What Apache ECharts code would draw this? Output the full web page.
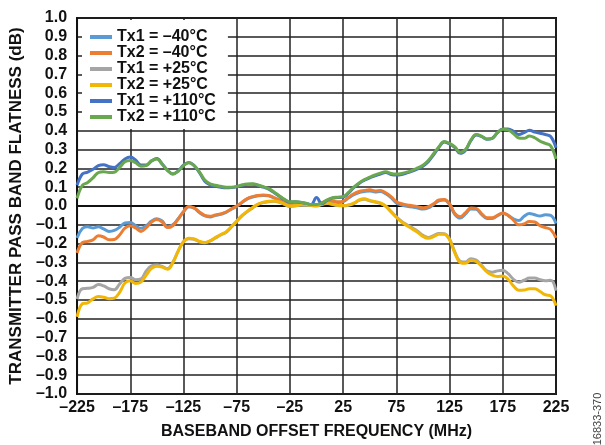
<!DOCTYPE html>
<html>
<head>
<meta charset="utf-8">
<script src="https://cdn.jsdelivr.net/npm/echarts@6/dist/echarts.min.js"></script>
<style>
  html, body { margin: 0; padding: 0; background: #fff; }
  #chart { width: 605px; height: 445px; }
</style>
</head>
<body>
<div id="chart"></div>
<script>
// baseband offset frequency, MHz (5 MHz steps)
const freq = [
  -225, -220, -215, -210, -205, -200, -195, -190, -185, -180,
  -175, -170, -165, -160, -155, -150, -145, -140, -135, -130,
  -125, -120, -115, -110, -105, -100, -95, -90, -85, -80,
  -75, -70, -65, -60, -55, -50, -45, -40, -35, -30,
  -25, -20, -15, -10, -5, 0, 5, 10, 15, 20,
  25, 30, 35, 40, 45, 50, 55, 60, 65, 70,
  75, 80, 85, 90, 95, 100, 105, 110, 115, 120,
  125, 130, 135, 140, 145, 150, 155, 160, 165, 170,
  175, 180, 185, 190, 195, 200, 205, 210, 215, 220,
  225
];

const seriesNames = ['Tx1 = \u201340°C', 'Tx2 = \u201340°C', 'Tx1 = +25°C', 'Tx2 = +25°C', 'Tx1 = +110°C', 'Tx2 = +110°C'];

const tx1Minus40 = [
  -0.17, -0.12, -0.11, -0.117, -0.11, -0.122, -0.135, -0.13, -0.113, -0.09,
  -0.088, -0.105, -0.119, -0.105, -0.08, -0.068, -0.08, -0.112, -0.1, -0.068,
  -0.03, -0.004, -0.012, -0.035, -0.053, -0.058, -0.05, -0.044, -0.034, -0.017,
  -0.002, 0.018, 0.038, 0.048, 0.054, 0.056, 0.054, 0.043, 0.031, 0.016,
  0.008, 0.007, 0.006, 0.005, 0.004, 0.004, 0.015, 0.025, 0.023, 0.019,
  0.022, 0.042, 0.06, 0.072, 0.077, 0.08, 0.075, 0.077, 0.065, 0.045,
  0.016, 0.005, -0.002, -0.005, -0.011, -0.016, -0.01, 0.008, 0.028, 0.032,
  0.008, -0.045, -0.064, -0.042, -0.016, -0.018, -0.044, -0.066, -0.066, -0.052,
  -0.038, -0.05, -0.068, -0.077, -0.055, -0.04, -0.047, -0.053, -0.046, -0.05,
  -0.093
];

const tx2Minus40 = [
  -0.25, -0.195, -0.188, -0.18, -0.158, -0.165, -0.18, -0.178, -0.154, -0.118,
  -0.105, -0.117, -0.135, -0.115, -0.085, -0.072, -0.085, -0.115, -0.105, -0.07,
  -0.03, -0.002, -0.01, -0.032, -0.05, -0.055, -0.048, -0.042, -0.032, -0.015,
  0.0, 0.02, 0.04, 0.05, 0.056, 0.058, 0.056, 0.045, 0.033, 0.018,
  0.01, 0.009, 0.008, 0.007, 0.006, 0.006, 0.018, 0.028, 0.026, 0.022,
  0.026, 0.046, 0.065, 0.077, 0.082, 0.086, 0.08, 0.082, 0.07, 0.05,
  0.022, 0.012, 0.005, 0.002, -0.004, -0.009, -0.004, 0.012, 0.032, 0.035,
  0.012, -0.04, -0.057, -0.035, -0.01, -0.013, -0.04, -0.062, -0.063, -0.05,
  -0.037, -0.05, -0.075, -0.1, -0.095, -0.082, -0.085, -0.105, -0.115, -0.125,
  -0.17
];

const tx1Plus25 = [
  -0.495, -0.44, -0.438, -0.433, -0.418, -0.425, -0.44, -0.445, -0.415, -0.385,
  -0.38, -0.392, -0.388, -0.346, -0.318, -0.314, -0.322, -0.333, -0.3, -0.24,
  -0.19, -0.174, -0.177, -0.19, -0.195, -0.186, -0.17, -0.154, -0.14, -0.112,
  -0.082, -0.052, -0.03, -0.01, 0.008, 0.018, 0.023, 0.025, 0.02, 0.008,
  -0.002, 0.0, 0.004, 0.004, 0.002, 0.0, 0.008, 0.014, 0.008, 0.002,
  0.001, 0.004, 0.013, 0.03, 0.036, 0.028, 0.021, 0.014, -0.002, -0.03,
  -0.058, -0.082, -0.1, -0.116, -0.134, -0.156, -0.167, -0.158, -0.146, -0.147,
  -0.176, -0.245, -0.294, -0.298, -0.28, -0.288, -0.315, -0.345, -0.352, -0.345,
  -0.342, -0.36, -0.39, -0.405, -0.395, -0.383, -0.383, -0.392, -0.397, -0.395,
  -0.45
];

const tx2Plus25 = [
  -0.59, -0.52, -0.515, -0.494, -0.482, -0.485, -0.493, -0.49, -0.459, -0.41,
  -0.398, -0.412, -0.405, -0.368, -0.332, -0.32, -0.325, -0.336, -0.302, -0.24,
  -0.19, -0.172, -0.175, -0.188, -0.194, -0.185, -0.168, -0.152, -0.138, -0.11,
  -0.08, -0.05, -0.028, -0.008, 0.01, 0.02, 0.025, 0.027, 0.022, 0.01,
  0.0, 0.002, 0.006, 0.006, 0.004, 0.002, 0.01, 0.016, 0.01, 0.004,
  0.003, 0.006, 0.015, 0.032, 0.038, 0.03, 0.023, 0.016, 0.0, -0.03,
  -0.06, -0.085, -0.105, -0.122, -0.14, -0.162, -0.172, -0.163, -0.15, -0.15,
  -0.18, -0.25, -0.3, -0.305, -0.288, -0.295, -0.32, -0.35, -0.368, -0.375,
  -0.372, -0.39, -0.425, -0.448, -0.447, -0.44, -0.44, -0.455, -0.472, -0.478,
  -0.53
];

const tx1Plus110 = [
  0.11, 0.17, 0.18, 0.195, 0.215, 0.22, 0.21, 0.205, 0.225, 0.25,
  0.26, 0.245, 0.218, 0.218, 0.24, 0.252, 0.223, 0.19, 0.17, 0.186,
  0.217, 0.232, 0.215, 0.178, 0.132, 0.112, 0.105, 0.1, 0.097, 0.098,
  0.102, 0.11, 0.115, 0.116, 0.11, 0.1, 0.09, 0.072, 0.052, 0.033,
  0.021, 0.022, 0.019, 0.014, 0.008, 0.045, 0.012, 0.03, 0.042, 0.045,
  0.048, 0.068, 0.097, 0.12, 0.137, 0.15, 0.16, 0.17, 0.178, 0.168,
  0.165, 0.168, 0.176, 0.186, 0.198, 0.212, 0.236, 0.272, 0.312, 0.34,
  0.33, 0.31, 0.28, 0.297, 0.347, 0.378, 0.37, 0.355, 0.36, 0.39,
  0.41, 0.41, 0.397, 0.38, 0.39, 0.403, 0.393, 0.387, 0.38, 0.37,
  0.31
];

const tx2Plus110 = [
  0.04, 0.11, 0.125, 0.15, 0.178, 0.182, 0.178, 0.18, 0.205, 0.235,
  0.242, 0.23, 0.212, 0.215, 0.24, 0.25, 0.222, 0.19, 0.17, 0.185,
  0.215, 0.23, 0.215, 0.182, 0.138, 0.118, 0.11, 0.105, 0.1, 0.1,
  0.104, 0.112, 0.117, 0.118, 0.112, 0.103, 0.092, 0.075, 0.054, 0.035,
  0.022, 0.023, 0.02, 0.015, 0.008, 0.008, 0.015, 0.033, 0.044, 0.047,
  0.05, 0.072, 0.1, 0.123, 0.14, 0.153, 0.165, 0.175, 0.182, 0.173,
  0.17, 0.173, 0.18, 0.19, 0.203, 0.217, 0.242, 0.278, 0.315, 0.343,
  0.333, 0.315, 0.285, 0.3, 0.35, 0.38, 0.372, 0.357, 0.36, 0.39,
  0.408, 0.405, 0.385, 0.362, 0.36, 0.372, 0.363, 0.345, 0.333, 0.32,
  0.25
];

const colors = ['#5B9BD5', '#ED7D31', '#A5A5A5', '#F2B705', '#4472C4', '#6AA84F'];
const font = 'Arial, "Liberation Sans", sans-serif';

function dash(s) {
  return String(s).replace('-', '\u2013');
}

const chart = echarts.init(document.getElementById('chart'), null, { renderer: 'canvas' });

const allData = [tx1Minus40, tx2Minus40, tx1Plus25, tx2Plus25, tx1Plus110, tx2Plus110];

const option = {
  animation: false,
  backgroundColor: '#fff',
  color: colors,
  textStyle: { fontFamily: font },
  grid: {
    left: 74,
    right: 49,
    top: 18,
    bottom: 45,
    show: true,
    borderColor: '#111',
    borderWidth: 2
  },
  legend: {
    orient: 'vertical',
    left: 82,
    top: 20,
    padding: [9, 12, 4, 8],
    backgroundColor: '#fff',
    itemGap: 0,
    itemWidth: 22,
    itemHeight: 4,
    icon: 'rect',
    selectedMode: false,
    textStyle: { fontSize: 16, fontWeight: 'bold', color: '#111', lineHeight: 16, fontFamily: font },
    data: seriesNames
  },
  xAxis: {
    type: 'category',
    data: freq,
    boundaryGap: false,
    name: 'BASEBAND OFFSET FREQUENCY (MHz)',
    nameLocation: 'middle',
    nameGap: 30,
    nameTextStyle: { fontSize: 16, fontWeight: 'bold', color: '#111', fontFamily: font },
    axisLine: { lineStyle: { color: '#111', width: 2 } },
    axisTick: { show: false },
    axisLabel: {
      interval: 9,
      margin: 6,
      fontSize: 16,
      fontWeight: 'bold',
      color: '#111',
      fontFamily: font,
      formatter: function (v) { return dash(v); }
    },
    splitLine: { show: true, interval: 9, lineStyle: { color: '#222', width: 1.5 } }
  },
  yAxis: {
    type: 'value',
    min: -1,
    max: 1,
    interval: 0.1,
    name: 'TRANSMITTER PASS BAND FLATNESS (dB)',
    nameLocation: 'middle',
    nameGap: 48,
    nameTextStyle: { fontSize: 17, fontWeight: 'bold', color: '#111', fontFamily: font },
    axisLine: { show: true, lineStyle: { color: '#111', width: 2 } },
    axisTick: { show: false },
    axisLabel: {
      margin: 10,
      fontSize: 16,
      fontWeight: 'bold',
      color: '#111',
      fontFamily: font,
      formatter: function (v) {
        const s = Math.abs(v) < 1e-9 ? '0.0' : v.toFixed(1);
        return dash(s);
      }
    },
    splitLine: { show: true, lineStyle: { color: '#222', width: 1.5 } }
  },
  graphic: [{
    type: 'text',
    x: 598,
    y: 419,
    rotation: Math.PI / 2,
    style: {
      text: '16833-370',
      fontSize: 11,
      fontFamily: font,
      fill: '#444',
      textAlign: 'center',
      textVerticalAlign: 'middle'
    }
  }],
  series: allData.map(function (d, i) {
    return {
      name: seriesNames[i],
      type: 'line',
      data: d,
      smooth: 0.4,
      showSymbol: false,
      lineStyle: { width: 3, color: colors[i] },
      itemStyle: { color: colors[i] }
    };
  })
};

chart.setOption(option);
</script>
</body>
</html>
